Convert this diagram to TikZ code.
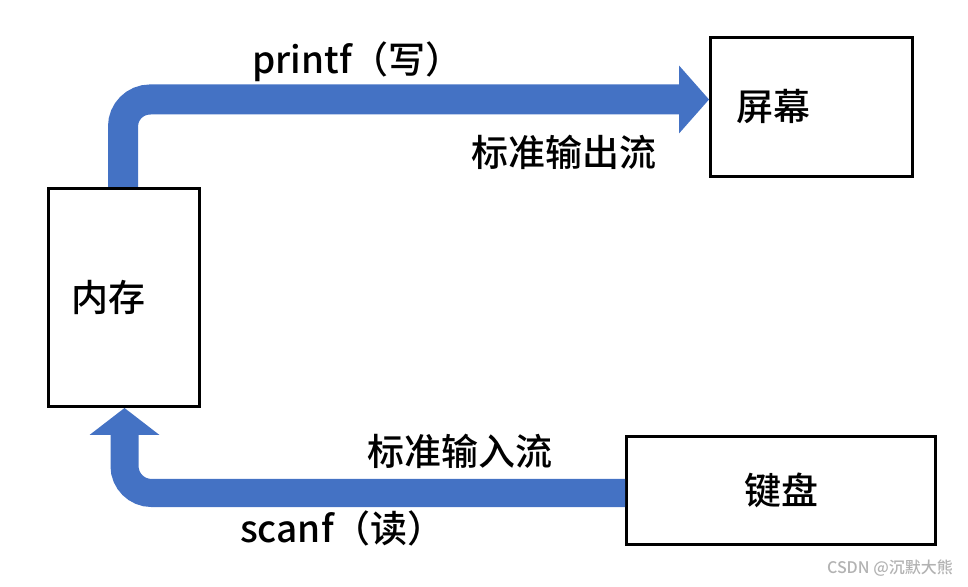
\documentclass[tikz,border=0pt]{standalone}
\usepackage{fontspec}
\setmainfont{Noto Sans CJK SC Medium}
\usetikzlibrary{arrows.meta}
\definecolor{flowblue}{HTML}{4472C4}

\begin{document}
\begin{tikzpicture}[x=1pt,y=1pt,
  box/.style={draw,line width=3pt,inner sep=0pt,font=\fontsize{37}{42}\selectfont},
  lab/.style={anchor=west,inner sep=0pt,font=\fontsize{37}{42}\selectfont},
  flow/.style={draw=flowblue,line width=#1,rounded corners=27pt}]
\useasboundingbox (0,0) rectangle (968,586);
% ---------- 三个方框 ----------
\node[box,anchor=north west,minimum width=151,minimum height=218,
  text width=105,inner xsep=23,align=left] (mem) at (47,399) {内存};
\node[box,anchor=north west,minimum width=202,minimum height=139,
  text width=150,inner xsep=26,align=left] (screen) at (709,550) {屏幕};
\node[box,anchor=north west,minimum width=309,minimum height=108] (kbd) at (625,151) {键盘};
% ---------- 输出流（上） ----------
\draw[flow=30pt,-{Triangle[length=30pt,width=68pt,line width=0pt]}]
  ([xshift=76]mem.north west) |- ([yshift=7.5]screen.west);
\node[lab] (wr) at (252,524) {printf（写）};
\node[lab] (outs) at (471,434) {标准输出流};
% ---------- 输入流（下） ----------
\draw[flow=28pt,-{Triangle[length=27pt,width=70pt,line width=0pt]}]
  ([yshift=-2.5]kbd.west) -| ([xshift=77.5]mem.south west);
\node[lab] (ins) at (367,135) {标准输入流};
\node[lab] (rd) at (240,58) {scanf（读）};
% 水印
\node[anchor=east,inner sep=0pt,text=gray!60,font=\fontsize{16}{18}\selectfont] (mark) at (953,18) {CSDN @沉默大熊};
\end{tikzpicture}
\end{document}
